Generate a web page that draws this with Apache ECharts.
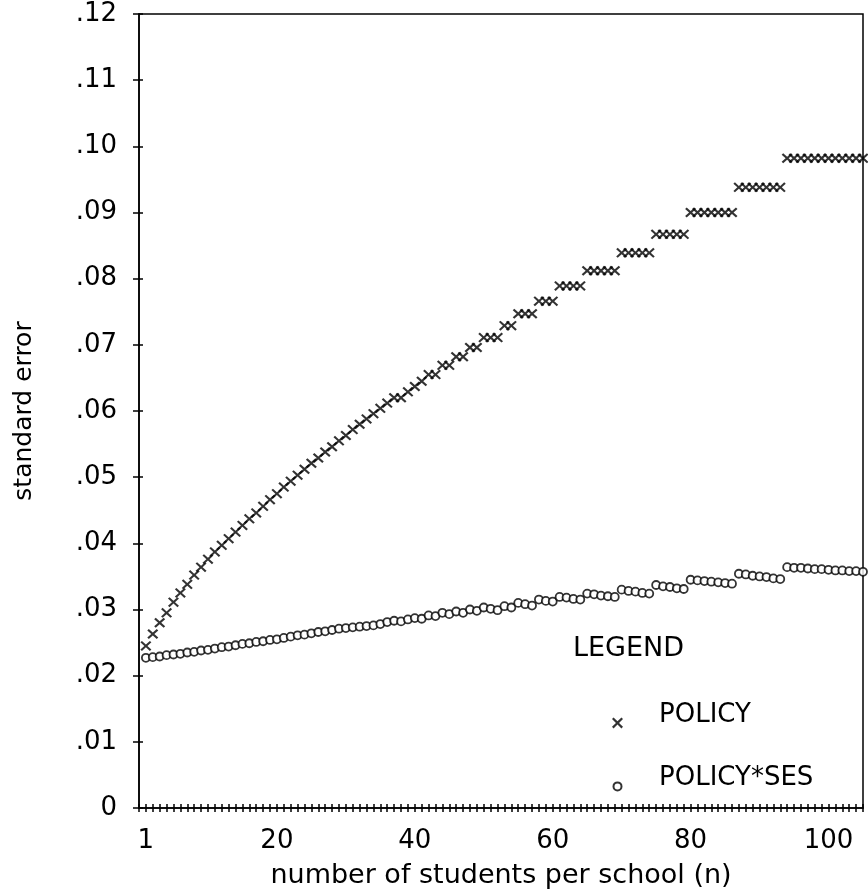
<!DOCTYPE html>
<html>
<head>
<meta charset="utf-8">
<script src="https://cdn.jsdelivr.net/npm/echarts@6/dist/echarts.min.js"></script>
<style>
  html, body { margin: 0; padding: 0; background: #fff; }
  #chart { width: 868px; height: 894px; }
</style>
</head>
<body>
<div id="chart"></div>
<script>
// number of students per school (n)
const students = [
  1, 2, 3, 4, 5, 6, 7, 8, 9, 10, 11, 12, 13, 14, 15, 16, 17, 18, 19, 20,
  21, 22, 23, 24, 25, 26, 27, 28, 29, 30, 31, 32, 33, 34, 35, 36, 37, 38, 39, 40,
  41, 42, 43, 44, 45, 46, 47, 48, 49, 50, 51, 52, 53, 54, 55, 56, 57, 58, 59, 60,
  61, 62, 63, 64, 65, 66, 67, 68, 69, 70, 71, 72, 73, 74, 75, 76, 77, 78, 79, 80,
  81, 82, 83, 84, 85, 86, 87, 88, 89, 90, 91, 92, 93, 94, 95, 96, 97, 98, 99, 100,
  101, 102, 103, 104, 105
];

// standard error, POLICY (x marks)
const policySE = [
  .0245, .0263, .0280, .0295, .0311, .0325, .0338, .0352, .0364, .0376,
  .0387, .0397, .0407, .0417, .0427, .0437, .0446, .0456, .0466, .0475,
  .0485, .0494, .0503, .0512, .0521, .0529, .0538, .0546, .0555, .0563,
  .0572, .0580, .0588, .0596, .0604, .0612, .0620, .0620, .0629, .0637,
  .0645, .0655, .0655, .0669, .0669, .0682, .0682, .0696, .0696, .0711,
  .0711, .0711, .0729, .0729, .0747, .0747, .0747, .0766, .0766, .0766,
  .0789, .0789, .0789, .0789, .0812, .0812, .0812, .0812, .0812, .0839,
  .0839, .0839, .0839, .0839, .0867, .0867, .0867, .0867, .0867, .0900,
  .0900, .0900, .0900, .0900, .0900, .0900, .0938, .0938, .0938, .0938,
  .0938, .0938, .0938, .0982, .0982, .0982, .0982, .0982, .0982, .0982,
  .0982, .0982, .0982, .0982, .0982
];

// standard error, POLICY*SES (circles)
const policySesSE = [
  .0227, .0228, .0229, .0231, .0232, .0233, .0235, .0236, .0238, .0239,
  .0241, .0243, .0244, .0246, .0248, .0249, .0251, .0252, .0254, .0255,
  .0257, .0259, .0261, .0262, .0264, .0266, .0267, .0269, .0271, .0272,
  .0273, .0274, .0275, .0276, .0278, .0281, .0283, .0282, .0285, .0287,
  .0286, .0291, .0290, .0295, .0293, .0297, .0295, .0300, .0298, .0303,
  .0301, .0299, .0305, .0303, .0310, .0308, .0306, .0315, .0313, .0312,
  .0319, .0318, .0316, .0315, .0324, .0323, .0321, .0320, .0319, .0330,
  .0328, .0327, .0325, .0324, .0337, .0335, .0334, .0332, .0331, .0345,
  .0344, .0343, .0342, .0341, .0340, .0339, .0354, .0353, .0351, .0350,
  .0349, .0347, .0346, .0364, .0363, .0363, .0362, .0361, .0361, .0360,
  .0359, .0359, .0358, .0358, .0357
];

const xTickLabels = [1, 20, 40, 60, 80, 100];
const yTickLabels = ['0', '.01', '.02', '.03', '.04', '.05', '.06', '.07', '.08', '.09', '.10', '.11', '.12'];

const FONT = 'DejaVu Sans';
// filled "x" outline so the strokes keep a steady thickness
const crossShape = 'M0,1.4L1.4,0L5,3.6L8.6,0L10,1.4L6.4,5L10,8.6L8.6,10L5,6.4L1.4,10L0,8.6L3.6,5Z';
const crossSymbol = 'path://' + crossShape;
// legend icons: an empty point above the mark pushes it below the text middle
const crossLegendIcon = 'path://M5,-14L5,-14' + crossShape;
const circleLegendIcon = 'path://M0,-14L0,-14M11,-14L11,-14M5.5,3A4,4 0 1 1 5.5,11A4,4 0 1 1 5.5,3Z';

const chart = echarts.init(document.getElementById('chart'));

const baseX = {
  type: 'value',
  min: 0,
  max: 105,
  interval: 1,
  splitLine: { show: false },
};
const baseY = {
  type: 'value',
  min: 0,
  max: 0.12,
  interval: 0.01,
  splitLine: { show: false },
};

chart.setOption({
  animation: false,
  backgroundColor: '#fff',
  grid: {
    left: 139,
    right: 5,
    top: 14,
    bottom: 83,
    show: true,
    borderColor: '#000',
    borderWidth: 1.5,
  },
  xAxis: [
    Object.assign({}, baseX, {
      position: 'bottom',
      name: 'number of students per school (n)',
      nameLocation: 'middle',
      nameGap: 54,
      nameTextStyle: { fontFamily: FONT, fontSize: 27, color: '#000' },
      axisLine: { lineStyle: { color: '#000', width: 1.5 } },
      axisTick: { length: 4, lineStyle: { color: '#000', width: 1.5 } },
      axisLabel: {
        margin: 20,
        fontFamily: FONT,
        fontSize: 26,
        color: '#000',
        formatter: v => (xTickLabels.includes(v) ? String(v) : ''),
      },
    }),
    // second copy only for the inner half of the crossing ticks
    Object.assign({}, baseX, {
      position: 'bottom',
      axisLine: { show: false },
      axisTick: { inside: true, length: 4, lineStyle: { color: '#000', width: 1.5 } },
      axisLabel: { show: false },
    }),
  ],
  yAxis: [
    Object.assign({}, baseY, {
      position: 'left',
      name: 'standard error',
      nameLocation: 'middle',
      nameGap: 102,
      nameTextStyle: { fontFamily: FONT, fontSize: 25, color: '#000' },
      axisLine: { lineStyle: { color: '#000', width: 1.5 } },
      axisTick: { length: 6, lineStyle: { color: '#000', width: 1.5 } },
      axisLabel: {
        margin: 22,
        fontFamily: FONT,
        fontSize: 26,
        color: '#000',
        formatter: v => yTickLabels[Math.round(v * 100)],
      },
    }),
    Object.assign({}, baseY, {
      position: 'left',
      axisLine: { show: false },
      axisTick: { inside: true, length: 4, lineStyle: { color: '#000', width: 1.5 } },
      axisLabel: { show: false },
    }),
  ],
  legend: {
    orient: 'vertical',
    left: 606,
    top: 697,
    itemWidth: 11,
    itemHeight: 33,
    itemGap: 36,
    textStyle: {
      fontFamily: FONT,
      fontSize: 26,
      color: '#000',
      padding: [0, 0, 0, 31],
    },
    data: [
      { name: 'POLICY', icon: crossLegendIcon },
      { name: 'POLICY*SES', icon: circleLegendIcon },
    ],
  },
  graphic: [
    {
      type: 'text',
      left: 573,
      top: 635,
      style: { text: 'LEGEND', fontFamily: FONT, fontSize: 27, fill: '#000' },
    },
  ],
  series: [
    {
      name: 'POLICY',
      type: 'scatter',
      symbol: crossSymbol,
      symbolSize: [11, 10],
      itemStyle: { color: '#000' },
      data: students.map((n, i) => [n, policySE[i]]),
    },
    {
      name: 'POLICY*SES',
      type: 'scatter',
      symbol: 'circle',
      symbolSize: 8,
      itemStyle: { color: '#fff', borderColor: '#000', borderWidth: 1.8 },
      data: students.map((n, i) => [n, policySesSE[i]]),
    },
  ],
});
</script>
</body>
</html>
